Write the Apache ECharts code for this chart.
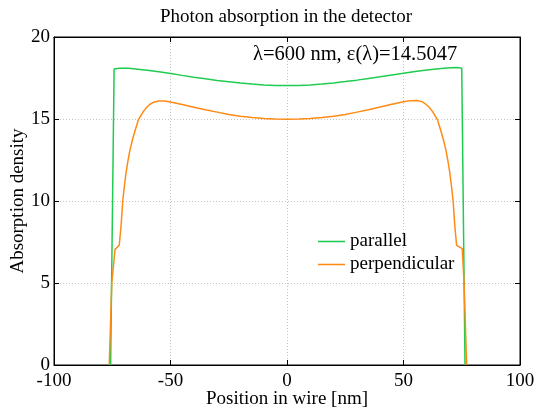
<!DOCTYPE html>
<html><head><meta charset="utf-8">
<script src="https://cdn.jsdelivr.net/npm/echarts@6/dist/echarts.min.js"></script>
<style>html,body{margin:0;padding:0;background:#fff}#c{width:537px;height:410px}</style>
</head><body><div id="c"></div>
<script>
const titleText = 'Photon absorption in the detector';
const annotation = 'λ=600 nm, ε(λ)=14.5047';
const xName = 'Position in wire [nm]';
const yName = 'Absorption density';
const seriesNames = ['parallel', 'perpendicular'];
const xTicks = [-100, 100, 50];
const yTicks = [0, 20, 5];

const parallelX = [-75.7,-74.2,-72,-68,-64,-60,-55,-50,-45,-40,-35,-30,-25,-20,-15,-10,-5,0,5,10,15,20,25,30,35,40,45,50,55,60,65,70,73,75.0,76.4];
const parallelY = [0,18.05,18.1,18.09,18.04,17.97,17.88,17.78,17.66,17.55,17.45,17.35,17.27,17.19,17.13,17.08,17.05,17.04,17.05,17.08,17.13,17.2,17.28,17.37,17.47,17.57,17.68,17.79,17.9,17.99,18.07,18.13,18.14,18.1,0];

const perpX = [-76.3,-75.2,-73.8,-72.0,-71.2,-70.5,-69.8,-69.1,-68.2,-67.4,-66.3,-65.2,-63.8,-61.7,-60.2,-58.8,-57,-55,-52.5,-50,-45,-40,-35,-30,-25,-20,-15,-10,-5,0,5,10,15,20,25,30,35,40,45,50,53,55.6,58,59.6,61,62.5,64.6,66,67.1,68.2,69,69.9,70.6,71.3,72,72.8,75.2,76,77.1];
const perpY = [0,5.0,7.05,7.3,8.5,10.0,10.9,11.7,12.5,13.1,13.75,14.3,14.94,15.45,15.72,15.9,16.04,16.1,16.1,16.03,15.88,15.72,15.56,15.42,15.28,15.17,15.09,15.03,15.0,14.99,15.0,15.03,15.09,15.17,15.28,15.42,15.57,15.73,15.9,16.05,16.12,16.13,16.06,15.9,15.72,15.45,14.94,14.3,13.75,13.1,12.5,11.7,10.9,10.0,8.5,7.3,7.1,5.0,0];

const zip = (xs, ys) => xs.map((x, i) => [x, ys[i]]);
const font = 'Liberation Serif, Times New Roman, serif';
const fs = 19;
const chart = echarts.init(document.getElementById('c'), null, {renderer: 'canvas'});

const baseX = {
  type: 'value', min: xTicks[0], max: xTicks[1], interval: xTicks[2],
  axisLine: {show: true, onZero: false, lineStyle: {color: '#000', width: 1}},
  axisTick: {show: true, inside: true, length: 5, lineStyle: {color: '#000'}},
};
const baseY = {
  type: 'value', min: yTicks[0], max: yTicks[1], interval: yTicks[2],
  axisLine: {show: true, onZero: false, lineStyle: {color: '#000', width: 1}},
  axisTick: {show: true, inside: true, length: 5, lineStyle: {color: '#000'}},
};

chart.setOption({
  animation: false,
  backgroundColor: '#fff',
  grid: {left: 54, right: 17, top: 37, bottom: 45, containLabel: false, outerBoundsMode: 'none',
         show: true, borderColor: '#000', borderWidth: 1},
  graphic: [
    {type: 'text', x: 286, y: 8, style: {text: titleText, font: fs + 'px ' + font, fill: '#000', textAlign: 'center'}},
    {type: 'text', x: 253, y: 44, style: {text: annotation, font: '20.5px ' + font, fill: '#000'}}
  ],
  legend: {
    data: seriesNames, orient: 'vertical', left: 318, top: 232, padding: 0,
    icon: 'path://M0 0H28V1.6H0Z',
    itemWidth: 27, itemHeight: 1.6, itemGap: 4,
    textStyle: {fontFamily: font, fontSize: fs, color: '#000', lineHeight: 19}
  },
  xAxis: [
    Object.assign({}, baseX, {
      position: 'bottom', name: xName, nameLocation: 'middle', nameGap: 25, nameMoveOverlap: false,
      nameTextStyle: {fontFamily: font, fontSize: fs, color: '#000'},
      axisLabel: {fontFamily: font, fontSize: fs, color: '#000', margin: 7},
      splitLine: {show: true, lineStyle: {color: '#c4c4c4', type: [1, 2], width: 1}}
    }),
    Object.assign({}, baseX, {position: 'top', axisLabel: {show: false}, splitLine: {show: false}})
  ],
  yAxis: [
    Object.assign({}, baseY, {
      position: 'left', name: yName, nameLocation: 'middle', nameGap: 26, nameMoveOverlap: false,
      nameTextStyle: {fontFamily: font, fontSize: fs, color: '#000'},
      axisLabel: {fontFamily: font, fontSize: fs, color: '#000', margin: 4},
      splitLine: {show: true, lineStyle: {color: '#c4c4c4', type: [1, 2], width: 1}}
    }),
    Object.assign({}, baseY, {position: 'right', axisLabel: {show: false}, splitLine: {show: false}})
  ],
  series: [
    {name: seriesNames[0], type: 'line', data: zip(parallelX, parallelY), showSymbol: false, symbol: 'none',
     lineStyle: {color: '#1fcc4f', width: 1.5}, itemStyle: {color: '#1fcc4f'}},
    {name: seriesNames[1], type: 'line', data: zip(perpX, perpY), showSymbol: false, symbol: 'none',
     lineStyle: {color: '#ff8a14', width: 1.5}, itemStyle: {color: '#ff8a14'}}
  ]
});
</script></body></html>
